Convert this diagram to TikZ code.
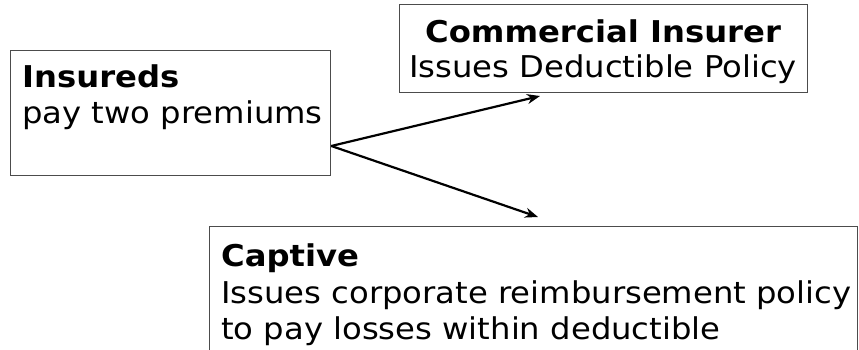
\documentclass[tikz,border=0pt]{standalone}
\usepackage{fontspec}
\setmainfont[FakeStretch=1.075]{DejaVu Sans}
\usetikzlibrary{arrows.meta,calc}
\begin{document}
\begin{tikzpicture}[x=1pt,y=-1pt,
  box/.style={draw=black!70, line width=1.3pt, rectangle, inner sep=0pt, anchor=north west},
  txt/.style={font=\fontsize{30}{36}\selectfont, inner sep=0pt, anchor=base west},
  ctxt/.style={txt, anchor=base},
  flow/.style={-{Stealth[length=13pt,width=10pt]}, line width=2.2pt}]
  \useasboundingbox (0,0) rectangle (859,349);
  \begin{scope}
    \clip (0,0) rectangle (859,349);

    % Insureds
    \node[box, minimum width=320pt, minimum height=125pt] (insbox) at (10,50) {};
    \node[txt] (institle) at (22,87) {\textbf{Insureds}};
    \node[txt] (insbody) at (22,123) {pay two premiums};

    % Commercial insurer
    \node[box, minimum width=408pt, minimum height=88pt] (combox) at (399,4) {};
    \node[ctxt] (comtitle) at (603,42) {\textbf{Commercial Insurer}};
    \node[ctxt] (combody) at (603,77) {Issues Deductible Policy};

    % Captive
    \node[box, minimum width=648pt, minimum height=160pt] (capbox) at (209,226) {};
    \node[txt] (captitle) at (221,266) {\textbf{Captive}};
    \node[txt] (capbody1) at (221,303) {Issues corporate reimbursement policy};
    \node[txt] (capbody2) at (221,339) {to pay losses within deductible};

    % Premium flows
    \coordinate (split) at ($(insbox.south east)!0.24!(insbox.north east)$);
    \coordinate (toins) at (540,96);
    \coordinate (tocap) at (538,217);
    \draw[flow] (split) -- (toins);
    \draw[flow] (split) -- (tocap);
  \end{scope}
\end{tikzpicture}
\end{document}
